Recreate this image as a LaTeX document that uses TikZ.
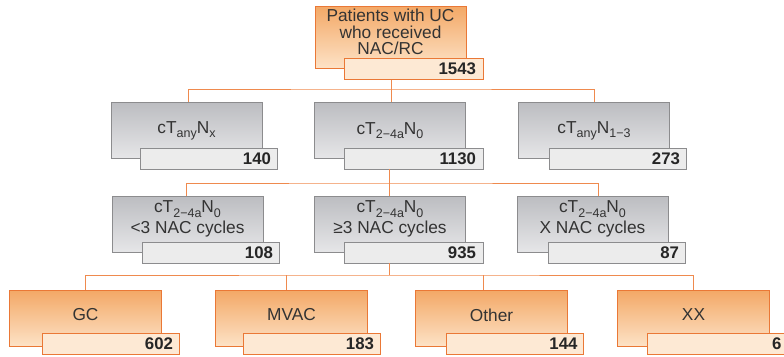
\documentclass[tikz,border=0pt]{standalone}
\usepackage{fontspec}
\setmainfont{Liberation Sans}
\usetikzlibrary{calc}

\definecolor{inkgray}{HTML}{333333}
\definecolor{greyedge}{HTML}{8C8C8E}
\definecolor{greytop}{HTML}{BCBDC1}
\definecolor{greybot}{HTML}{E6E6E8}
\definecolor{greynum}{HTML}{ECECEC}
\definecolor{orangeedge}{HTML}{EA7836}
\definecolor{orangetop}{HTML}{F3A866}
\definecolor{orangebot}{HTML}{FDE2C6}
\definecolor{orangenum}{HTML}{FDE9D4}
\definecolor{linkorange}{HTML}{EF8A4E}

% lowered subscript in the running font
\newcommand\lowsub[1]{\raisebox{-0.45ex}{\fontsize{12.5}{12.5}\selectfont #1}}

\begin{document}
\begin{tikzpicture}[x=1pt,y=-1pt,
  every node/.style={inner sep=0pt, text=inkgray},
  greybox/.style={draw=greyedge, line width=0.9pt, top color=greytop, bottom color=greybot,
    minimum width=151pt, minimum height=56pt},
  orangebox/.style={draw=orangeedge, line width=0.9pt, top color=orangetop, bottom color=orangebot,
    minimum width=152pt, minimum height=56pt},
  numbase/.style={line width=0.9pt, minimum width=137pt, minimum height=21pt,
    text width=125pt, align=right, inner xsep=6pt, inner ysep=0pt,
    font=\bfseries\fontsize{16.8}{16.8}\selectfont, text=black!85},
  greynumbox/.style={numbase, draw=greyedge, fill=greynum},
  orangenumbox/.style={numbase, draw=orangeedge, fill=orangenum},
  lbl/.style={align=center, font=\fontsize{17.3}{20.5}\selectfont},
  link/.style={draw=linkorange, line width=1pt},
]
\useasboundingbox (0,0) rectangle (784,356);

% ---------- level 0 ----------
\node[orangebox, minimum width=151pt, minimum height=62pt] (b0) at (390.5,37) {};
\node[orangenumbox, minimum width=139pt] (n0) at (413.5,69) {1543};
\node[lbl, font=\fontsize{17.3}{16.8}\selectfont] (t0) at (390.5,32) {Patients with UC\\who received\\NAC/RC};

% ---------- level 1 ----------
\node[greybox] (b11) at (186.5,130.5) {};
\node[greynumbox] (n11) at (208.5,158.5) {140};
\node[lbl] (t11) at (186.5,131) {cT\lowsub{any}N\lowsub{x}};

\node[greybox] (b12) at (390,130.5) {};
\node[greynumbox, minimum width=139pt] (n12) at (413.5,158.5) {1130};
\node[lbl] (t12) at (390,131) {cT\lowsub{2−4a}N\lowsub{0}};

\node[greybox] (b13) at (594,130.5) {};
\node[greynumbox] (n13) at (617.5,158.5) {273};
\node[lbl] (t13) at (594,131) {cT\lowsub{any}N\lowsub{1−3}};

% ---------- level 2 ----------
\node[greybox] (b21) at (187.5,224) {};
\node[greynumbox] (n21) at (210.5,252.5) {108};
\node[lbl] (t21) at (187.5,219) {cT\lowsub{2−4a}N\lowsub{0}\\<3 NAC cycles};

\node[greybox] (b22) at (390,224) {};
\node[greynumbox, minimum width=139pt] (n22) at (413.5,252.5) {935};
\node[lbl] (t22) at (390,219) {cT\lowsub{2−4a}N\lowsub{0}\\≥3 NAC cycles};

\node[greybox] (b23) at (592.5,224) {};
\node[greynumbox] (n23) at (616.5,252.5) {87};
\node[lbl] (t23) at (592.5,219) {cT\lowsub{2−4a}N\lowsub{0}\\X NAC cycles};

% ---------- level 3 ----------
\node[orangebox] (b31) at (85.5,318) {};
\node[orangenumbox] (n31) at (110.5,343.5) {602};
\node[lbl] (t31) at (85.5,315) {GC};

\node[orangebox] (b32) at (291.5,318) {};
\node[orangenumbox] (n32) at (311.5,343.5) {183};
\node[lbl] (t32) at (291.5,315) {MVAC};

\node[orangebox] (b33) at (491.5,318) {};
\node[orangenumbox] (n33) at (515,343.5) {144};
\node[lbl] (t33) at (491.5,315) {Other};

% the last count box runs past the right edge of the page
\node[orangebox] (b34) at (693.5,318) {};
\node[orangenumbox, minimum width=150pt, text width=118pt] (n34) at (722.5,343.5) {6};
\node[lbl] (t34) at (693.5,315) {XX};

% ---------- connectors ----------
\coordinate (bus1) at (391,89);
\coordinate (bus2) at (389,183);
\coordinate (bus3) at (389,275);

\draw[link] (bus1 |- n0.south) -- (bus1);
\draw[link] ([xshift=1.5pt]b11.north) |- (bus1) -| (b13.north);
\draw[link] (bus1) -- (bus1 |- b12.north);

\draw[link] (bus2 |- n12.south) -- (bus2);
\draw[link] ([xshift=-1.5pt]b21.north) |- (bus2) -| ([xshift=5.5pt]b23.north);
\draw[link] (bus2) -- (bus2 |- b22.north);

\draw[link] (bus3 |- n22.south) -- (bus3);
\draw[link] (b31.north) |- (bus3) -| (b34.north);
\draw[link] ([xshift=-5.5pt]b32.north) -- ([xshift=-5.5pt]b32.north |- bus3);
\draw[link] ([xshift=-8.5pt]b33.north) -- ([xshift=-8.5pt]b33.north |- bus3);
\end{tikzpicture}
\end{document}
